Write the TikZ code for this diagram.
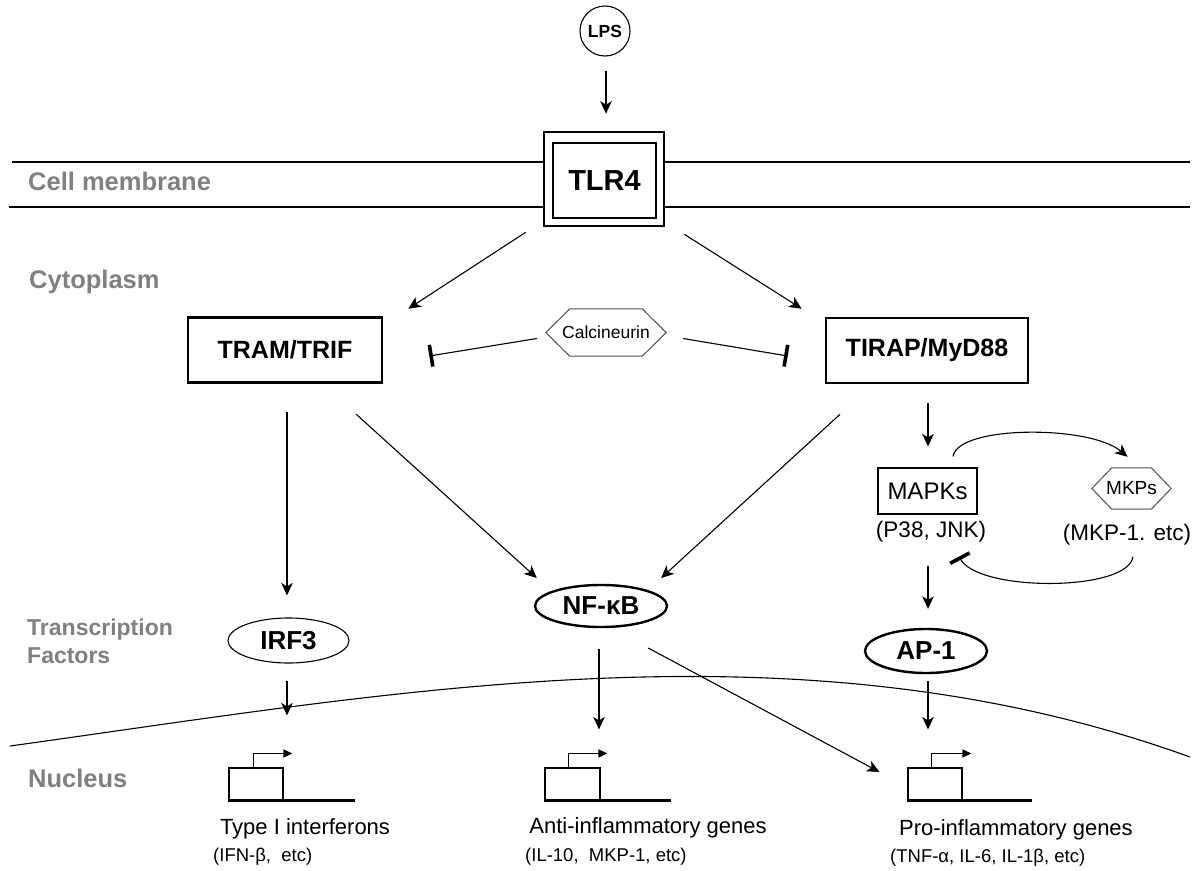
\documentclass[tikz,border=0pt]{standalone}
\usepackage{fontspec}
\setmainfont{Liberation Sans}
\usetikzlibrary{arrows.meta,calc,shapes.geometric}
\definecolor{lblgray}{RGB}{128,128,128}
\definecolor{hexgray}{RGB}{80,80,80}
\begin{document}
\begin{tikzpicture}[x=1pt,y=-1pt,
  thinln/.style={line width=1.1pt},
  arr/.style={thinln,-{Stealth[length=12.5pt,width=11.5pt,inset=3.5pt]}},
  inh/.style={thinln,-{Bar[width=22pt,line width=3.6pt]}},
  region/.style={anchor=base west,inner sep=0,text=lblgray,font=\fontsize{25.5}{29}\selectfont\bfseries},
  bigbox/.style={draw,line width=2.6pt,inner sep=0,font=\fontsize{25}{29}\selectfont\bfseries},
  tf/.style={ellipse,draw,inner sep=0,font=\fontsize{26}{30}\selectfont\bfseries},
  gene/.style={draw,thinln,minimum width=54pt,minimum height=32pt,inner sep=0},
  genelbl/.style={anchor=base,inner sep=0,font=\fontsize{22}{25}\selectfont},
  genesub/.style={anchor=base west,inner sep=0,font=\fontsize{18.5}{22}\selectfont},
  promoter/.style={thinln,-{Triangle[length=9pt,width=8pt]}},
]
\useasboundingbox[fill=white] (0,0) rectangle (1199,870);

% region labels
\node[region] (lblmem) at (28,190.5) {Cell membrane};
\node[region] (lblcyt) at (29,288) {Cytoplasm};
\node[region,font=\fontsize{23}{27}\selectfont\bfseries] (lbltf1) at (27,635) {Transcription};
\node[region,font=\fontsize{23}{27}\selectfont\bfseries] (lbltf2) at (27,663) {Factors};
\node[region] (lblnuc) at (28,787) {Nucleus};

% LPS and TLR4
\node[circle,draw,thinln,minimum size=50pt,inner sep=0,font=\fontsize{17.5}{20}\selectfont\bfseries] (lps) at (605,31) {LPS};
\node[draw,line width=2.6pt,minimum width=120pt,minimum height=94pt,inner sep=0] (tlr) at (604,179) {};
\node[draw,thinln,minimum width=103pt,minimum height=75pt,inner sep=0,font=\fontsize{29}{32}\selectfont\bfseries] (tlrin) at (604.5,180.5) {TLR4};

% cell membrane
\coordinate (mL1) at (12,162);
\coordinate (mR1) at (1190,162);
\coordinate (mL2) at (9,207);
\coordinate (mR2) at (1190,207);
\draw[thinln] (mL1) -- (mL1 -| tlr.west);
\draw[thinln] (tlr.east |- mR1) -- (mR1);
\draw[thinln] (mL2) -- (mL2 -| tlr.west);
\draw[thinln] (tlr.east |- mR2) -- (mR2);

% adaptors
\node[bigbox,minimum width=194pt,minimum height=65pt] (tram) at (285,350) {TRAM/TRIF};
\node[bigbox,minimum width=202pt,minimum height=65pt] (tirap) at (927,350.5) {TIRAP/MyD88};

% calcineurin
\node[inner sep=0,minimum width=120pt,minimum height=47pt,font=\fontsize{17.5}{20}\selectfont] (calc) at (606,332.5) {Calcineurin};
\draw[hexgray,line width=1pt] (calc.west) -- ($(calc.north west)+(24,0)$) -- ($(calc.north east)+(-24,0)$) -- (calc.east) -- ($(calc.south east)+(-24,0)$) -- ($(calc.south west)+(24,0)$) -- cycle;

% MAPKs and MKPs
\node[draw,thinln,minimum width=99pt,minimum height=46pt,inner sep=0,font=\fontsize{24}{28}\selectfont] (mapk) at (927.5,491) {MAPKs};
\node[inner sep=0,font=\fontsize{22.5}{26}\selectfont] (mapksub) at (931,532) {(P38, JNK)};
\node[inner sep=0,minimum width=79pt,minimum height=41pt,font=\fontsize{19}{22}\selectfont] (mkp) at (1131.5,488.5) {MKPs};
\draw[hexgray,line width=1pt] (mkp.west) -- ($(mkp.north west)+(20,0)$) -- ($(mkp.north east)+(-20,0)$) -- (mkp.east) -- ($(mkp.south east)+(-20,0)$) -- ($(mkp.south west)+(20,0)$) -- cycle;
\node[inner sep=0,font=\fontsize{22.5}{26}\selectfont] (mkpsub) at (1127,535) {(MKP-1. etc)};

% transcription factors
\node[tf,thinln,minimum width=121pt,minimum height=45pt] (irf) at (288.5,640.5) {IRF3};
\node[tf,line width=2.4pt,minimum width=132pt,minimum height=42pt] (nfkb) at (601,606) {NF-κB};
\node[tf,line width=2.4pt,minimum width=122pt,minimum height=44pt] (ap1) at (926,651) {AP-1};

% nuclear membrane
\coordinate (nL) at (10,746);
\coordinate (nR) at (1190,757);
\draw[thinln] (nL) .. controls (400,692) and (800,616) .. (nR);

% genes
\node[gene] (g1) at (256,784) {};
\node[gene,minimum width=55pt] (g2) at (572.5,784) {};
\node[gene] (g3) at (935,784) {};
\draw[line width=3pt] (g1.south west) -- ++(127,0);
\draw[line width=3pt] (g2.south west) -- ++(127,0);
\draw[line width=3pt] (g3.south west) -- ++(125,0);
\draw[promoter] ($(g1.north west)+(25,0)$) -- ++(0,-14) -- ++(39,0);
\draw[promoter] ($(g2.north west)+(24,0)$) -- ++(0,-14) -- ++(39,0);
\draw[promoter] ($(g3.north west)+(24,0)$) -- ++(0,-14) -- ++(40,0);

\node[genelbl] (t1) at (305,834) {Type I interferons};
\node[genesub] (s1) at (213,861) {(IFN-β,\ \ etc)};
\node[genelbl] (t2) at (648,833) {Anti-inflammatory genes};
\node[genesub] (s2) at (525,861) {(IL-10,\ \ MKP-1, etc)};
\node[genelbl] (t3) at (1016,835) {Pro-inflammatory genes};
\node[genesub] (s3) at (890,862) {(TNF-α, IL-6, IL-1β, etc)};

% connectors
\draw[arr] ($(lps.south)+(1,14)$) -- ($(tlr.north)+(2,-17)$);
\draw[arr] ($(tlr.south west)+(-17,5)$) -- ($(tram.north east)+(25,-7.5)$);
\draw[arr] ($(tlr.south east)+(19,7)$) -- ($(tirap.north west)+(-23,-8)$);
\draw[inh] ($(calc.west)+(-9,6)$) -- ($(tram.east)+(46,6)$);
\draw[inh] ($(calc.east)+(17,6)$) -- ($(tirap.west)+(-37,5.5)$);
\draw[arr] ($(tram.south)+(2,28)$) -- ($(irf.north)+(-1.5,-22)$);
\draw[arr] ($(tram.south east)+(-27,30.5)$) -- ($(nfkb.west)+(3,-28)$);
\draw[arr] ($(tirap.south)+(-87,30)$) -- ($(nfkb.east)+(-7,-28)$);
\draw[arr] ($(tirap.south)+(1,19)$) -- ($(mapk.north)+(0.5,-21)$);
\draw[arr] ($(mapk.north)+(25.5,-11)$) .. controls (958,425) and (1090,425) .. ($(mkp.north)+(-4,-11)$);
\draw[inh] ($(mkpsub.south)+(6,11)$) .. controls (1128,592) and (978,592) .. ($(mapk.south)+(31.5,42)$);
\draw[arr] ($(mapk.south)+(0.5,51)$) -- ($(ap1.north)+(2,-19)$);
\draw[arr] ($(irf.south)+(-1.5,17)$) -- ($(g1.north)+(31,-52)$);
\draw[arr] ($(nfkb.south)+(-2,21)$) -- ($(g2.north)+(26.5,-38)$);
\draw[arr] ($(nfkb.east)+(-20,42)$) -- ($(g3.west)+(-28,-12)$);
\draw[arr] ($(ap1.south)+(2,7)$) -- ($(g3.north)+(-7,-38)$);
\end{tikzpicture}
\end{document}
